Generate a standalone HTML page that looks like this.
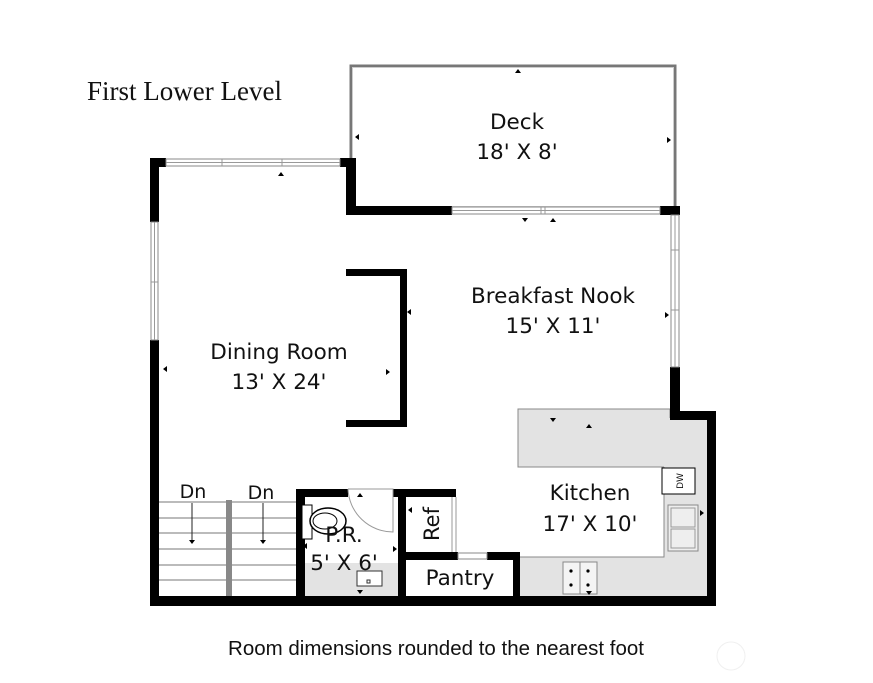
<!DOCTYPE html>
<html><head><meta charset="utf-8"><style>
html,body{margin:0;padding:0;background:#fff;}
svg{display:block;}
text{font-family:"DejaVu Sans","Liberation Sans",sans-serif;fill:#111;}
</style></head><body>
<svg width="873" height="683" viewBox="0 0 873 683" xmlns="http://www.w3.org/2000/svg">
<text x="87" y="100" style="font-family:'Liberation Serif',serif;font-size:27px">First Lower Level</text>
<rect x="351" y="66" width="324" height="142" fill="none" stroke="#777" stroke-width="3"/>
<rect x="352.5" y="67.5" width="321" height="139" fill="none" stroke="#ccc" stroke-width="1"/>
<rect x="518" y="409" width="152" height="58" fill="#e3e3e3" stroke="#888" stroke-width="1"/>
<rect x="664" y="418" width="44" height="140" fill="#e3e3e3"/>
<rect x="518" y="557" width="190" height="40" fill="#e3e3e3"/>
<polyline points="518,557 664,557 664,467" fill="none" stroke="#888" stroke-width="1"/>
<rect x="305" y="563" width="94" height="34" fill="#e3e3e3"/>
<g fill="#000">
<rect x="150" y="158" width="9" height="64"/>
<rect x="150" y="340" width="9" height="266"/>
<rect x="150" y="158" width="16" height="9"/>
<rect x="340" y="158" width="16" height="9"/>
<rect x="346" y="158" width="10" height="57"/>
<rect x="346" y="206" width="106" height="9"/>
<rect x="660" y="206" width="20" height="9"/>
<rect x="670" y="367" width="10" height="53"/>
<rect x="670" y="411" width="46" height="9"/>
<rect x="707" y="411" width="9" height="195"/>
<rect x="150" y="596" width="566" height="10"/>
<rect x="346" y="269" width="61" height="7"/>
<rect x="400" y="269" width="7" height="158"/>
<rect x="346" y="420" width="61" height="7"/>
<rect x="296" y="489" width="9" height="108"/>
<rect x="296" y="489" width="52" height="8"/>
<rect x="393" y="489" width="63" height="8"/>
<rect x="398" y="489" width="8" height="108"/>
<rect x="398" y="552" width="60" height="8"/>
<rect x="487" y="552" width="33" height="8"/>
<rect x="513" y="552" width="7" height="45"/>
</g>
<g fill="#fff" stroke="#888" stroke-width="1">
<rect x="166" y="159" width="174" height="7"/>
<rect x="151" y="222" width="7" height="118"/>
<rect x="452" y="207" width="208" height="7"/>
<rect x="671" y="215" width="8" height="152"/>
<rect x="458" y="553" width="29" height="6"/>
</g>
<g stroke="#999" stroke-width="1">
<line x1="166" y1="162.5" x2="340" y2="162.5"/>
<line x1="222" y1="159" x2="222" y2="166"/><line x1="282" y1="159" x2="282" y2="166"/>
<line x1="154.5" y1="222" x2="154.5" y2="340"/><line x1="151" y1="282" x2="158" y2="282"/>
<line x1="675" y1="215" x2="675" y2="367"/><line x1="671" y1="250" x2="679" y2="250"/><line x1="671" y1="310" x2="679" y2="310"/>
<line x1="452" y1="210.5" x2="660" y2="210.5"/><line x1="541" y1="207" x2="541" y2="214"/><line x1="545" y1="207" x2="545" y2="214"/>
<line x1="452" y1="497" x2="452" y2="552"/><line x1="456" y1="497" x2="456" y2="552"/>
</g>
<g stroke="#777" stroke-width="1">
<line x1="159" y1="502" x2="296" y2="502"/>
<line x1="159" y1="518" x2="296" y2="518"/>
<line x1="159" y1="533" x2="296" y2="533"/>
<line x1="159" y1="549" x2="296" y2="549"/>
<line x1="159" y1="565" x2="296" y2="565"/>
<line x1="159" y1="580" x2="296" y2="580"/>
<line x1="192" y1="503" x2="192" y2="540" stroke="#222"/>
<line x1="263" y1="503" x2="263" y2="540" stroke="#222"/>
</g>
<rect x="226" y="500" width="6" height="96" fill="#888"/>
<path d="M189,540 L195,540 L192,544Z M260,540 L266,540 L263,544Z" fill="#000"/>
<rect x="302" y="505" width="10" height="34" fill="#fff" stroke="#000"/>
<ellipse cx="328" cy="521" rx="18" ry="13" fill="#fff" stroke="#000" stroke-width="1.5"/>
<ellipse cx="325" cy="521" rx="12" ry="8" fill="none" stroke="#000"/>
<path d="M348,489 L393,489 L393,532 A45,45 0 0 1 348,489" fill="none" stroke="#999"/>
<rect x="357" y="571" width="25" height="15" fill="#fff" stroke="#333"/>
<rect x="367" y="580" width="3" height="3" fill="none" stroke="#333"/>
<rect x="662" y="468" width="33" height="26" fill="#fff" stroke="#000"/>
<text x="0" y="0" transform="translate(683,481) rotate(-90)" text-anchor="middle" style="font-size:9px">DW</text>
<rect x="668" y="505" width="30" height="46" fill="#eee" stroke="#888"/>
<rect x="671" y="508" width="24" height="19" fill="none" stroke="#999"/>
<rect x="671" y="529" width="24" height="19" fill="none" stroke="#999"/>
<rect x="563" y="562" width="34" height="32" fill="#f4f4f4" stroke="#888"/>
<line x1="580" y1="562" x2="580" y2="594" stroke="#888"/>
<g fill="#000"><circle cx="571" cy="571" r="1.6"/><circle cx="588" cy="571" r="1.6"/><circle cx="571" cy="585" r="1.6"/><circle cx="588" cy="585" r="1.6"/></g>
<g fill="#000">
<path d="M515,73 l3,-4 l3,4Z M355,137 l4,-3 v6Z M667,137 l4,3 l-4,3Z"/>
<path d="M278,176 l3,-4 l3,4Z M522,218 l3,4 l3,-4Z M550,222 l3,-4 l3,4Z"/>
<path d="M407,312 l4,-3 v6Z M665,312 l4,3 l-4,3Z M163,369 l4,-3 v6Z M386,369 l4,3 l-4,3Z"/>
<path d="M550,418 l3,4 l3,-4Z M586,428 l3,-4 l3,4Z M700,510 l4,3 l-4,3Z"/>
<path d="M357,497 l3,-4 l3,4Z M303,546 l4,-3 v6Z M393,546 l4,3 l-4,3Z M357,590 l3,4 l3,-4Z M408,510 l4,-3 v6Z M586,591 l3,4 l3,-4Z"/>
</g>
<g style="font-size:21.5px" text-anchor="middle">
<text x="517" y="129">Deck</text>
<text x="517" y="159">18' X 8'</text>
<text x="553" y="303">Breakfast Nook</text>
<text x="553" y="333">15' X 11'</text>
<text x="279" y="359">Dining Room</text>
<text x="279" y="389">13' X 24'</text>
<text x="590" y="500">Kitchen</text>
<text x="590" y="531">17' X 10'</text>
<text x="460" y="585">Pantry</text>
<text x="344" y="542">P.R.</text>
<text x="344" y="570">5' X 6'</text>
</g>
<text x="0" y="0" transform="translate(439,524) rotate(-90)" text-anchor="middle" style="font-size:21px">Ref</text>
<text x="193" y="498" text-anchor="middle" style="font-size:19px">Dn</text>
<text x="261" y="499" text-anchor="middle" style="font-size:19px">Dn</text>
<text x="436" y="655" text-anchor="middle" style="font-family:'Liberation Sans',sans-serif;font-size:20.5px">Room dimensions rounded to the nearest foot</text>
<circle cx="731" cy="656" r="14" fill="none" stroke="#f0f0f0"/>
</svg>
</body></html>
